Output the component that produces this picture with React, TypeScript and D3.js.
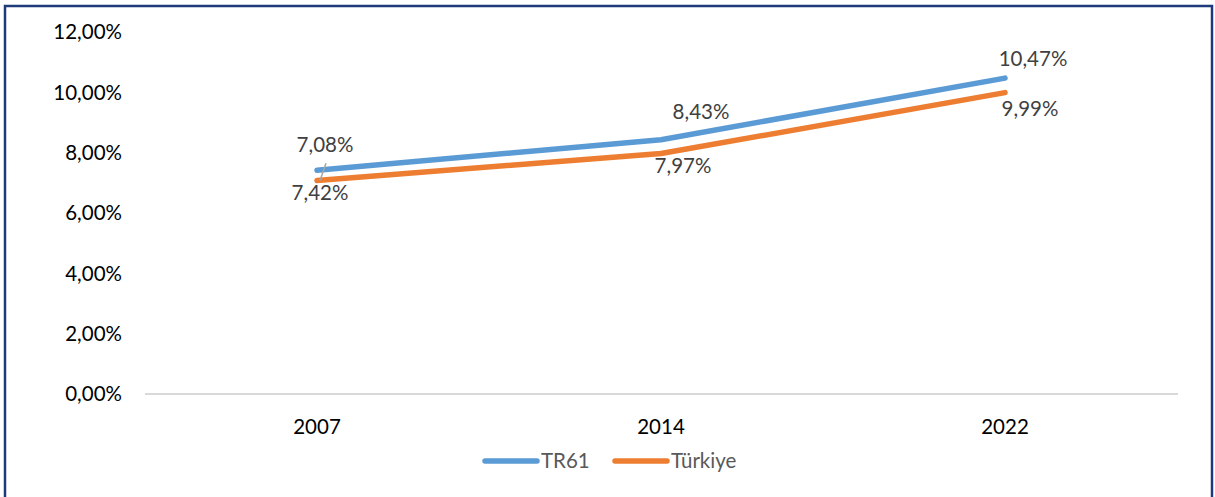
import React from 'react';
import * as d3 from 'd3';

const years = ['2007', '2014', '2022'];
const tr61 = [7.42, 8.43, 10.47];
const turkiye = [7.08, 7.97, 9.99];
const yTicks = [0, 2, 4, 6, 8, 10, 12];
// label texts exactly as printed in the picture (2007 labels sit swapped)
const tr61Labels = ['7,42%', '8,43%', '10,47%'];
const turkiyeLabels = ['7,08%', '7,97%', '9,99%'];

const W = 1215, H = 497;
const font = 'Lato, "Open Sans", sans-serif';
const fs = 20.5;
const fmt = (v: number) => v.toFixed(2).replace('.', ',') + '%';

const App = () => {
    const x = d3.scalePoint().domain(years).range([317, 1005]);
    const y = d3.scaleLinear().domain([0, 12]).range([394, 32]);

    const line = d3.line<number>()
        .x((d, i) => x(years[i])!)
        .y(d => y(d));

    // label offsets (dx, dy of baseline) from own point
    const blueOff = [[3, 30], [40, -21], [28, -12]];
    const orangeOff = [[8, -28], [22, 19], [25, 23]];

    return (
        <div style={{ position: 'absolute', left: 0, top: 0 }}>
            <svg width={W} height={H} style={{ display: 'block' }}>
                <rect x={0} y={0} width={W} height={H} fill="#fff" />
                <rect x={5} y={6} width={1207} height={H + 10} fill="none" stroke="#1F3A7A" strokeWidth={2.5} />

                <line x1={145} x2={1178} y1={y(0)} y2={y(0)} stroke="#d9d9d9" strokeWidth={2} />

                {yTicks.map(t => (
                    <text key={t} x={122} y={y(t)} dy="0.36em" textAnchor="end"
                        fontFamily={font} fontSize={fs} fill="#000">{fmt(t)}</text>
                ))}
                {years.map(yr => (
                    <text key={yr} x={x(yr)} y={427} dy="0.36em" textAnchor="middle"
                        fontFamily={font} fontSize={fs} fill="#000">{yr}</text>
                ))}

                <path d={line(turkiye)!} fill="none" stroke="#ED7D31" strokeWidth={5.5} strokeLinecap="round" strokeLinejoin="round" />
                <path d={line(tr61)!} fill="none" stroke="#5B9BD5" strokeWidth={5.5} strokeLinecap="round" strokeLinejoin="round" />

                {/* leader line for the 2007 label */}
                <line x1={326} y1={y(tr61[0]) - 7} x2={320} y2={y(turkiye[0])} stroke="#a6a6a6" strokeWidth={1.5} />

                <g fontFamily={font} fontSize={fs} fill="#404040" textAnchor="middle">
                    {tr61.map((v, i) => (
                        <text key={'b' + i} x={x(years[i])! + blueOff[i][0]} y={y(v) + blueOff[i][1]}>{tr61Labels[i]}</text>
                    ))}
                    {turkiye.map((v, i) => (
                        <text key={'o' + i} x={x(years[i])! + orangeOff[i][0]} y={y(v) + orangeOff[i][1]}>{turkiyeLabels[i]}</text>
                    ))}
                </g>

                <g fontFamily={font} fontSize={fs} fill="#595959">
                    <line x1={485} x2={537} y1={461} y2={461} stroke="#5B9BD5" strokeWidth={5.5} strokeLinecap="round" />
                    <text x={541} y={461} dy="0.36em">TR61</text>
                    <line x1={615} x2={667} y1={461} y2={461} stroke="#ED7D31" strokeWidth={5.5} strokeLinecap="round" />
                    <text x={671} y={461} dy="0.36em">Türkiye</text>
                </g>
            </svg>
        </div>
    );
};

export default App;
